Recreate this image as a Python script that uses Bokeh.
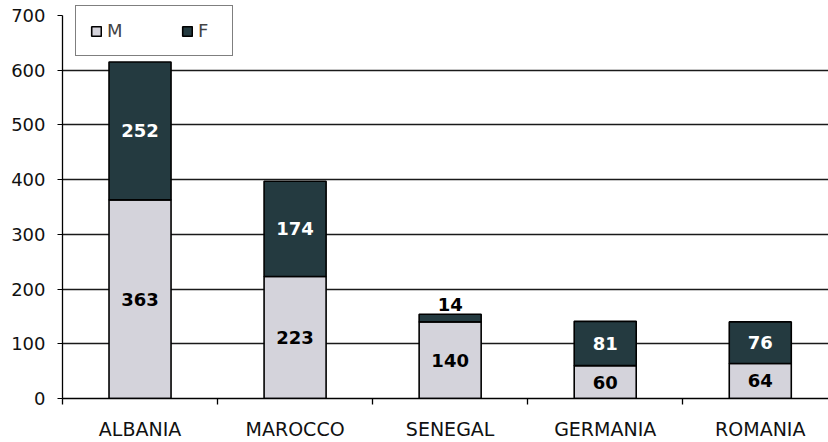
from bokeh.plotting import figure
from bokeh.models import (ColumnDataSource, Range1d, FixedTicker, Legend, LegendItem)
from bokeh.core.properties import value
from bokeh.embed import file_html
from bokeh.resources import INLINE

countries = ["ALBANIA", "MAROCCO", "SENEGAL", "GERMANIA", "ROMANIA"]
m_vals = [363, 223, 140, 60, 64]
f_vals = [252, 174, 14, 81, 76]
y_ticks = [0, 100, 200, 300, 400, 500, 600, 700]

M_COLOR = "#D4D3DB"
F_COLOR = "#243A40"
FONT = "DejaVu Sans"

xs = [i + 0.5 for i in range(len(countries))]
src = ColumnDataSource(dict(x=xs, M=m_vals, F=f_vals))

p = figure(width=828, height=442, output_backend="svg", toolbar_location=None,
           x_range=Range1d(0, 4.94), y_range=Range1d(0, 727.3),
           min_border_left=62, min_border_right=0, min_border_top=0,
           min_border_bottom=43, outline_line_color=None)
p.background_fill_color = "white"
p.border_fill_color = "white"

renderers = p.vbar_stack(["M", "F"], x="x", width=0.4, source=src,
                         color=[M_COLOR, F_COLOR], line_color="black",
                         line_width=1.6)

# labels
lab_x, lab_y, lab_t, lab_c = [], [], [], []
for x, m, f in zip(xs, m_vals, f_vals):
    lab_x.append(x); lab_y.append(m / 2); lab_t.append(str(m)); lab_c.append("black")
    if f < 30:
        lab_x.append(x); lab_y.append(m + f + 17); lab_t.append(str(f)); lab_c.append("black")
    else:
        lab_x.append(x); lab_y.append(m + f / 2); lab_t.append(str(f)); lab_c.append("white")
lsrc = ColumnDataSource(dict(x=lab_x, y=lab_y, t=lab_t, c=lab_c))
p.text(x="x", y="y", text="t", text_color="c", source=lsrc,
       text_align="center", text_baseline="middle",
       text_font=value(FONT), text_font_style="bold", text_font_size="18px")

# grid
p.xgrid.visible = False
p.ygrid.ticker = FixedTicker(ticks=[100, 200, 300, 400, 500, 600])
p.ygrid.grid_line_color = "#1a1a1a"
p.ygrid.grid_line_width = 1.3
p.ygrid.level = "underlay"

# y axis
p.yaxis.ticker = FixedTicker(ticks=y_ticks)
p.yaxis.bounds = (0, 700)
p.yaxis.axis_line_color = "black"
p.yaxis.axis_line_width = 1.3
p.yaxis.major_tick_out = 5
p.yaxis.major_tick_in = 0
p.yaxis.major_tick_line_color = "black"
p.yaxis.minor_tick_line_color = None
p.yaxis.major_label_standoff = 12
p.yaxis.major_label_text_font = FONT
p.yaxis.major_label_text_font_size = "18px"
p.yaxis.major_label_text_color = "#111111"

# x axis
p.xaxis.ticker = FixedTicker(ticks=xs, minor_ticks=list(range(len(countries) + 1)))
p.xaxis.major_label_overrides = {x: c for x, c in zip(xs, countries)}
p.xaxis.axis_line_color = "black"
p.xaxis.axis_line_width = 1.3
p.xaxis.major_tick_line_color = None
p.xaxis.minor_tick_out = 6
p.xaxis.minor_tick_in = 0
p.xaxis.minor_tick_line_color = "black"
p.xaxis.minor_tick_line_width = 1.3
p.xaxis.major_label_standoff = 13
p.xaxis.major_label_text_font = FONT
p.xaxis.major_label_text_font_size = "19px"
p.xaxis.major_label_text_color = "#111111"

legend = Legend(items=[LegendItem(label="M", renderers=[renderers[0]]),
                       LegendItem(label="F", renderers=[renderers[1]])],
                orientation="horizontal", location=(13, 342),
                padding=14, spacing=54, margin=0,
                glyph_width=12, glyph_height=12, label_height=12,
                label_standoff=5, label_text_font=FONT,
                label_text_font_size="18px", label_text_baseline="middle",
                border_line_color="black", border_line_width=1.2,
                background_fill_color="white", background_fill_alpha=1)
p.add_layout(legend, "center")

open("out.html", "w").write(file_html(p, INLINE))
